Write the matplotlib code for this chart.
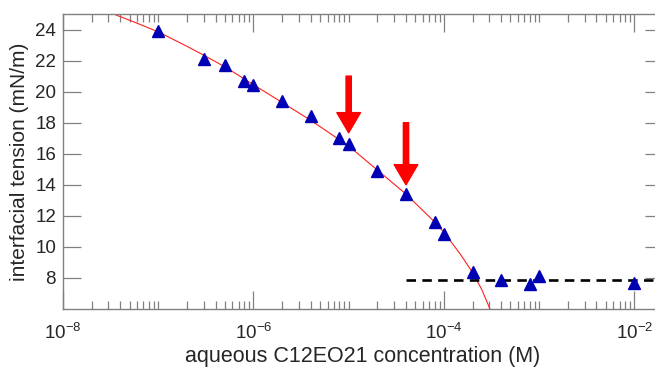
import numpy as np
import matplotlib
matplotlib.use("Agg")
import matplotlib.pyplot as plt
from matplotlib.ticker import FixedLocator, LogLocator, LogFormatterSciNotation, NullFormatter

plt.rcParams['font.family'] = ['Liberation Sans', 'DejaVu Sans']
plt.rcParams['mathtext.fontset'] = 'custom'
plt.rcParams['mathtext.rm'] = 'Liberation Sans'
plt.rcParams['mathtext.default'] = 'regular'

# measured points (concentration in M, tension in mN/m)
conc = [1e-7, 3e-7, 5e-7, 8e-7, 1e-6, 2e-6, 4e-6, 8e-6, 1e-5, 2e-5, 4e-5,
        8e-5, 1e-4, 2e-4, 4e-4, 8e-4, 1e-3, 1e-2]
tension = [23.9, 22.1, 21.7, 20.7, 20.4, 19.4, 18.4, 17.0, 16.65, 14.9, 13.4,
           11.6, 10.8, 8.4, 7.85, 7.6, 8.1, 7.7]

# fit curve
fit_conc = [3.39e-8, 5.5e-8, 1e-7, 2e-7, 3e-7, 5e-7, 1e-6, 2e-6, 4e-6, 1e-5,
            2e-5, 4e-5, 8e-5, 1e-4, 1.5e-4, 2e-4, 2.5e-4, 3.05e-4]
fit_tension = [25.0, 24.5, 23.85, 22.92, 22.35, 21.6, 20.45, 19.3, 18.15, 16.5,
               14.95, 13.4, 11.6, 10.95, 9.5, 8.35, 7.25, 6.0]

# plateau above the cmc
plateau_conc = [4e-5, 2e-2]
plateau_tension = [7.87, 7.87]

# arrows: (x, top, tip)
arrow_x = [1e-5, 4e-5]
arrow_top = [21.0, 18.0]
arrow_tip = [17.35, 14.0]

x_major = [1e-8, 1e-6, 1e-4, 1e-2]
y_major = [8, 10, 12, 14, 16, 18, 20, 22, 24]

fig = plt.figure(figsize=(6.55, 3.69), dpi=100)
ax = fig.add_axes([63 / 655, 60 / 369, 600 / 655, 295 / 369])

ax.plot(fit_conc, fit_tension, color='#ff2020', lw=0.8, zorder=2)
ax.plot(plateau_conc, plateau_tension, color='black', lw=1.9, dashes=(3.6, 2.4), zorder=3)
ax.plot(conc, tension, linestyle='none', marker='^', ms=9, color='#0000b4',
        markeredgecolor='#0000b4', zorder=4)

for x, top, tip in zip(arrow_x, arrow_top, arrow_tip):
    ax.annotate('', xy=(x, tip), xytext=(x, top),
                arrowprops=dict(facecolor='red', edgecolor='red', width=3.8,
                                headwidth=17, headlength=14.5, shrink=0))

ax.set_xscale('log')
ax.set_xlim(1e-8, 2e-2)
ax.set_ylim(6, 25)

ax.xaxis.set_major_locator(FixedLocator(x_major))
ax.xaxis.set_major_formatter(LogFormatterSciNotation(base=10))
ax.xaxis.set_minor_locator(LogLocator(base=10, subs=np.arange(1, 10), numticks=50))
ax.xaxis.set_minor_formatter(NullFormatter())
ax.set_yticks(y_major)

gray = '#808080'
for s in ax.spines.values():
    s.set_color(gray)
    s.set_linewidth(1.0)
ax.tick_params(which='both', direction='in', top=True, right=True, color=gray,
               labelcolor='#262626', labelsize=13.5)
ax.tick_params(which='major', length=13, width=0.9)
ax.tick_params(which='minor', length=6, width=0.9)
ax.tick_params(axis='x', which='major', pad=10)
ax.tick_params(axis='y', which='major', pad=5)

ax.set_xlabel('aqueous C12EO21 concentration (M)', fontsize=15.5, color='#262626', labelpad=2)
ax.set_ylabel('interfacial tension (mN/m)', fontsize=15, color='#262626', labelpad=4)

fig.savefig('out.png', dpi=100)
